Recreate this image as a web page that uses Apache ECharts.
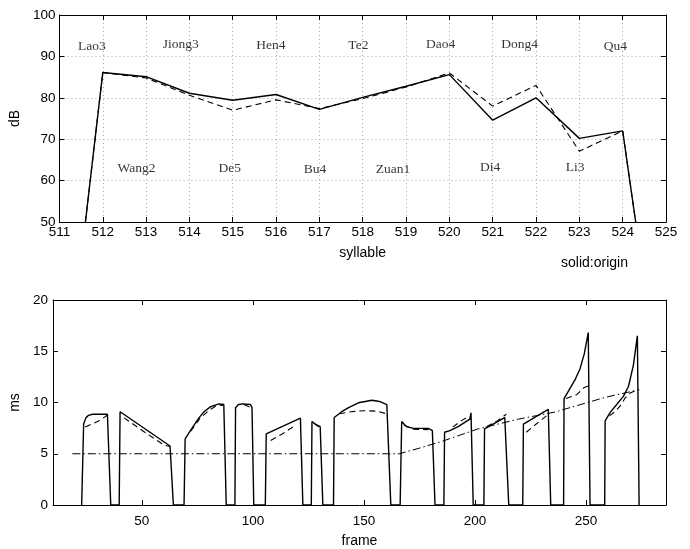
<!DOCTYPE html>
<html>
<head>
<meta charset="utf-8">
<script src="https://cdn.jsdelivr.net/npm/echarts@6/dist/echarts.min.js"></script>
<style>
  html, body { margin: 0; padding: 0; background: #fff; }
  #chart { width: 690px; height: 549px; }
</style>
</head>
<body>
<div id="chart"></div>
<script>
// ---- Upper panel: syllable energy (dB) ----
const syllableX   = [511.6, 512, 513, 514, 515, 516, 517, 518, 519, 520, 521, 522, 523, 524, 524.3];
const originDb    = [50, 86.1, 85.1, 81.1, 79.4, 80.8, 77.2, 80.1, 82.8, 85.6, 74.6, 80.0, 70.2, 72.0, 50];
const modifiedDb  = [50, 86.1, 84.8, 80.6, 77.0, 79.5, 77.4, 79.8, 82.6, 86.0, 78.0, 83.0, 67.1, 72.0, 50];

const toneNames = ['Lao3', 'Jiong3', 'Hen4', 'Te2', 'Dao4', 'Dong4', 'Qu4',
                   'Wang2', 'De5', 'Bu4', 'Zuan1', 'Di4', 'Li3'];
const toneX = [511.75, 513.8, 515.88, 517.9, 519.8, 521.62, 523.83,
               512.78, 514.93, 516.9, 518.7, 520.94, 522.9];
const toneY = [92.3, 92.8, 92.7, 92.7, 92.8, 92.8, 92.3,
               62.9, 62.9, 62.8, 62.8, 63.2, 63.2];

// ---- Lower panel: pitch period (ms) per frame ----
const originFrames = [
  22.9, 23.8, 24.8, 26, 27.8, 34.5, 35, 36,
  39.8, 40.2, 62.7, 64.2,
  69, 69.5, 72, 75.7, 78, 81, 84.7, 86.9, 88,
  91.9, 92.2, 93.5, 95.2, 98.9, 99.6, 100.4,
  105.6, 106, 121.4, 122.5,
  126.3, 126.6, 128, 130.3, 131.5,
  136.3, 136.6, 140, 143.1, 147.5, 150.6, 153.5, 157, 160.3, 161, 162.1,
  166.3, 167, 169.2, 172.2, 179, 180.8, 182,
  186, 186.3, 188.7, 192.4, 197.7, 198.2, 199.2,
  204, 204.3, 213.4, 214, 215.2,
  221.5, 221.8, 233, 234.1,
  239.9, 240.1, 242, 245, 247.3, 249.2, 251, 251.8,
  258.4, 258.6, 260.8, 263.8, 266.8, 269.1, 271.3, 273.1, 273.9
];
const originMs = [
  0, 7.9, 8.5, 8.75, 8.85, 8.85, 8.7, 0,
  0, 9.1, 5.76, 0,
  0, 6.46, 7.3, 8.5, 9.1, 9.6, 9.87, 9.8, 0,
  0, 9.49, 9.8, 9.87, 9.8, 9.5, 0,
  0, 6.94, 8.47, 0,
  0, 8.15, 7.9, 7.64, 0,
  0, 8.53, 9.1, 9.49, 9.97, 10.1, 10.22, 10.1, 9.8, 9.65, 0,
  0, 8.15, 7.64, 7.48, 7.48, 7.26, 0,
  0, 7.1, 7.26, 7.64, 8.37, 9.0, 0,
  0, 7.42, 8.53, 8.5, 0,
  0, 7.9, 9.33, 0,
  0, 10.38, 11.08, 12.2, 13.3, 14.74, 16.82, 0,
  0, 8.21, 9.01, 9.8, 10.6, 11.56, 13.63, 16.5, 0
];

// modified contour, one piece per voiced segment (null = gap)
const modifiedFrames = [
  24.5, 27, 31, 35, null,
  42, 44, 52, 60, 62.7, null,
  72, 76, 80, 84, 86.5, null,
  96, 99, 99.6, null,
  108, 113, 119, null,
  127.5, 130.3, null,
  139, 144, 150, 156, 161, null,
  168, 172, 179, null,
  190, 193, 196, 198, null,
  205.2, 210, 214.1, null,
  223.1, 227, 232.1, null,
  241, 245.8, 249.2, 251.5, null,
  260.5, 263, 265.3, 267.6, 269.9, 272.9
];
const modifiedMs = [
  7.6, 7.85, 8.25, 8.85, null,
  8.5, 8.2, 7.0, 5.85, 5.7, null,
  7.2, 8.4, 9.2, 9.75, 9.7, null,
  9.8, 9.5, 9.3, null,
  6.3, 6.9, 7.75, null,
  8.0, 7.5, null,
  8.9, 9.1, 9.2, 9.15, 8.85, null,
  7.8, 7.4, 7.35, null,
  7.6, 8.1, 8.5, 8.6, null,
  7.64, 8.2, 8.85, null,
  7.1, 7.8, 8.69, null,
  10.4, 10.76, 11.47, 11.66, null,
  8.7, 9.1, 9.65, 10.44, 10.92, 11.24
];

// reference period contour
const targetFrames = [18.7, 166, 175, 185, 201, 219, 236, 258.6, 274];
const targetMs     = [5.0, 5.0, 5.55, 6.2, 7.4, 8.35, 9.07, 10.5, 11.25];

const frameTicks = [50, 100, 150, 200, 250];

const zip = (xs, ys) => xs.map((x, i) => (x === null || ys[i] === null) ? [null, null] : [x, ys[i]]);

const SANS = 'Liberation Sans, Arial, Helvetica, sans-serif';
const SERIF = 'Liberation Serif, Times New Roman, serif';

function frameAxis(gridIndex, pos, min, max, opts) {
  return Object.assign({
    type: 'value', gridIndex, position: pos, min, max,
    axisLine: { show: true, onZero: false, lineStyle: { color: '#000', width: 1 } },
    axisTick: { show: true, inside: true, length: 5, lineStyle: { color: '#000', width: 1 } },
    axisLabel: { show: false },
    splitLine: { show: false }
  }, opts || {});
}

const labelStyle = { color: '#000', fontFamily: SANS, fontSize: 13.5, showMinLabel: true, showMaxLabel: true, hideOverlap: false };
const nameStyle = { color: '#000', fontFamily: SANS, fontSize: 14 };
const gridDots = { show: true, lineStyle: { color: '#aaa', width: 1, type: [1, 3] } };

const option = {
  animation: false,
  backgroundColor: '#fff',
  grid: [
    { left: 53, right: 24, top: 15, height: 207, containLabel: false },
    { left: 53, right: 24, top: 300, height: 209, containLabel: false }
  ],
  xAxis: [
    frameAxis(0, 'bottom', 511, 525, {
      interval: 1,
      axisLabel: Object.assign({ show: true, margin: 3 }, labelStyle),
      splitLine: gridDots,
      name: 'syllable', nameLocation: 'middle', nameGap: 24,
      nameTextStyle: nameStyle
    }),
    frameAxis(0, 'top', 511, 525, { interval: 1 }),
    frameAxis(1, 'bottom', 10, 286, {
      axisTick: { show: true, inside: true, length: 5, customValues: frameTicks, lineStyle: { color: '#000', width: 1 } },
      axisLabel: Object.assign({ show: true, margin: 9, customValues: frameTicks }, labelStyle),
      name: 'frame', nameLocation: 'middle', nameGap: 29,
      nameTextStyle: nameStyle
    }),
    frameAxis(1, 'top', 10, 286, {
      axisTick: { show: true, inside: true, length: 5, customValues: frameTicks, lineStyle: { color: '#000', width: 1 } }
    })
  ],
  yAxis: [
    frameAxis(0, 'left', 50, 100, {
      interval: 10,
      axisLabel: Object.assign({ show: true, margin: 4 }, labelStyle),
      splitLine: gridDots,
      name: 'dB', nameLocation: 'middle', nameGap: 30, nameRotate: 90,
      nameTextStyle: nameStyle
    }),
    frameAxis(0, 'right', 50, 100, { interval: 10 }),
    frameAxis(1, 'left', 0, 20, {
      interval: 5,
      axisLabel: Object.assign({ show: true, margin: 5 }, labelStyle),
      name: 'ms', nameLocation: 'middle', nameGap: 30, nameRotate: 90,
      nameTextStyle: nameStyle
    }),
    frameAxis(1, 'right', 0, 20, { interval: 5 })
  ],
  graphic: [
    {
      type: 'text', left: 561, top: 256,
      style: { text: 'solid:origin', fill: '#000', font: '14px ' + SANS }
    }
  ],
  series: [
    {
      type: 'line', xAxisIndex: 0, yAxisIndex: 0, symbol: 'none', silent: true,
      data: zip(syllableX, modifiedDb),
      lineStyle: { color: '#000', width: 1.1, type: [6, 4] }
    },
    {
      type: 'line', xAxisIndex: 0, yAxisIndex: 0, symbol: 'none', silent: true,
      data: zip(syllableX, originDb),
      lineStyle: { color: '#000', width: 1.4, type: 'solid' }
    },
    {
      type: 'scatter', xAxisIndex: 0, yAxisIndex: 0, silent: true,
      symbol: 'circle', symbolSize: 1, itemStyle: { color: 'rgba(0,0,0,0)' },
      data: toneNames.map((n, i) => [toneX[i], toneY[i], n]),
      label: {
        show: true, position: 'inside', formatter: p => p.data[2],
        color: '#000', fontFamily: SERIF, fontSize: 13.5
      }
    },
    {
      type: 'line', xAxisIndex: 2, yAxisIndex: 2, symbol: 'none', silent: true,
      data: zip(targetFrames, targetMs),
      lineStyle: { color: '#000', width: 1, type: [8, 3, 1.5, 3] }
    },
    {
      type: 'line', xAxisIndex: 2, yAxisIndex: 2, symbol: 'none', silent: true,
      connectNulls: false,
      data: zip(modifiedFrames, modifiedMs),
      lineStyle: { color: '#000', width: 1.1, type: [6, 4] }
    },
    {
      type: 'line', xAxisIndex: 2, yAxisIndex: 2, symbol: 'none', silent: true,
      data: zip(originFrames, originMs),
      lineStyle: { color: '#000', width: 1.4, type: 'solid' }
    }
  ]
};

const chart = echarts.init(document.getElementById('chart'), null, { renderer: 'canvas' });
chart.setOption(option);
</script>
</body>
</html>
